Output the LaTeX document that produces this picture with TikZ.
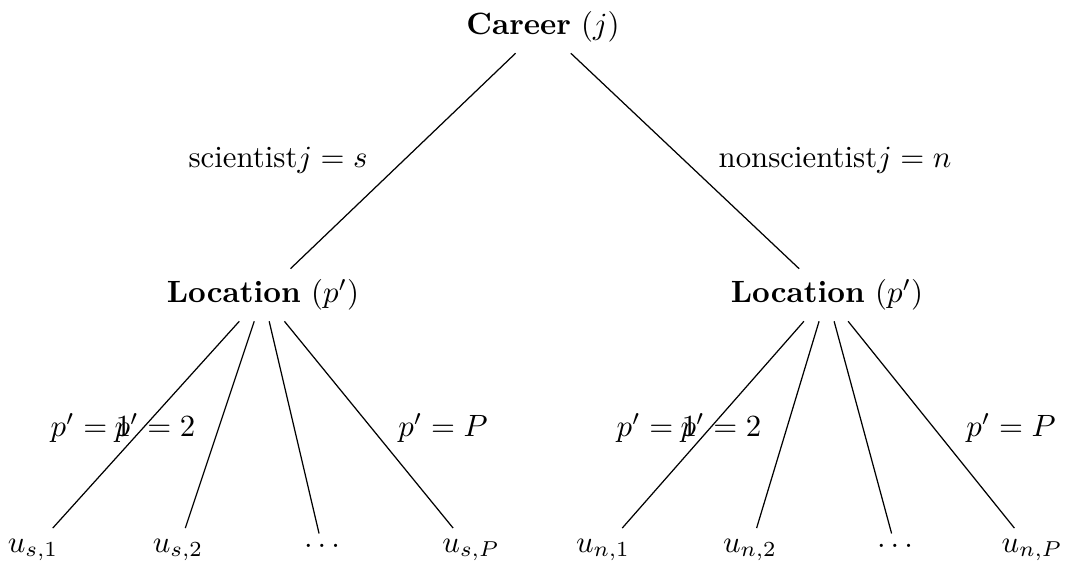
\documentclass[tikz,border=0pt]{standalone}
\begin{document}
\begin{tikzpicture}[x=0.3247pt,y=-0.3247pt,
  edge/.style={draw=black, line width=0.4pt},
  lbl/.style={inner sep=0pt}]
\useasboundingbox (0,0) rectangle (1081,567);
% main nodes
\node (career) at (543,27) {\textbf{Career} $(j)$};
\node (locL) at (263,295) {\textbf{Location} $(p')$};
\node (locR) at (827,295) {\textbf{Location} $(p')$};
% leaves
\node (us1) at (33,550) {$u_{s,1}$};
\node (us2) at (178,550) {$u_{s,2}$};
\node (usd) at (322,546) {$\ldots$};
\node (usP) at (471,550) {$u_{s,P}$};
\node (un1) at (603,550) {$u_{n,1}$};
\node (un2) at (750,550) {$u_{n,2}$};
\node (und) at (895,546) {$\ldots$};
\node (unP) at (1032,550) {$u_{n,P}$};
% connectors
\draw[edge] (career) -- (locL);
\draw[edge] (career) -- (locR);
\foreach \c in {us1,us2,usd,usP} \draw[edge] (locL) -- (\c);
\foreach \c in {un1,un2,und,unP} \draw[edge] (locR) -- (\c);
% labels
\node[lbl] (ls) at (278,160) {scientist$j=s$};
\node[lbl] (ln) at (835,160) {nonscientist$j=n$};
\node[lbl] (l1L) at (91,428) {$p'=1$};
\node[lbl] (l2L) at (155,428) {$p'=2$};
\node[lbl] (lPL) at (443,428) {$p'=P$};
\node[lbl] (l1R) at (657,428) {$p'=1$};
\node[lbl] (l2R) at (721,428) {$p'=2$};
\node[lbl] (lPR) at (1011,428) {$p'=P$};
\end{tikzpicture}
\end{document}
